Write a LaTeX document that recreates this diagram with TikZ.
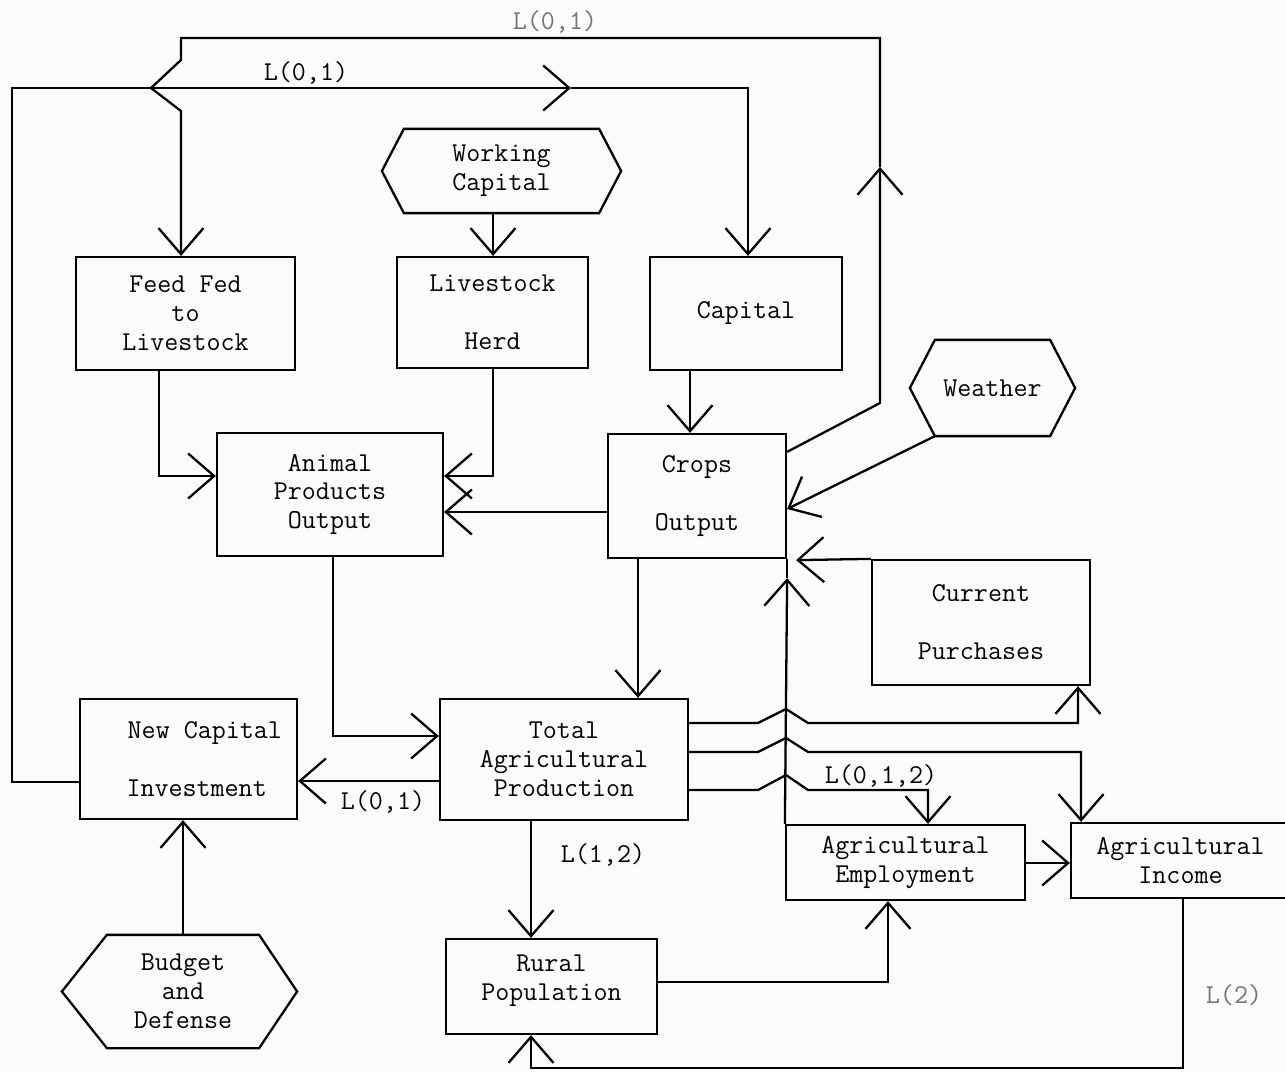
\documentclass[tikz,border=0pt]{standalone}
\usetikzlibrary{arrows.meta,calc}
\newcommand\txf{\fontsize{15.5}{16.5}\selectfont\ttfamily}
\begin{document}
\begin{tikzpicture}[x=0.02cm,y=-0.02cm,
  line width=1.3pt,
  box/.style={draw, rectangle, inner sep=0pt, align=center, font=\txf},
  hexn/.style={rectangle, inner sep=0pt, align=center, font=\txf},
  arr/.style={-{Straight Barb[length=0.52cm,width=0.9cm]}},
  lbl/.style={font=\txf, inner sep=0pt},
  faint/.style={text=black!55}]
\useasboundingbox (0,0) rectangle (1285,1072);
\fill[gray!3] (0,0) rectangle (1285,1072);
\clip (0,0) rectangle (1285,1072);

% boxes
\node[box, minimum width=4.38cm, minimum height=2.26cm] (feed) at (185.5,313.5) {Feed Fed\\to\\Livestock};
\node[box, minimum width=3.82cm, minimum height=2.22cm] (herd) at (492.5,312.5) {Livestock\\[16.5pt]Herd};
\node[box, minimum width=3.84cm, minimum height=2.26cm] (cap) at (746,313.5) {Capital};
\node[box, minimum width=4.52cm, minimum height=2.46cm] (animal) at (330,494.5) {Animal\\Products\\Output};
\node[box, minimum width=3.56cm, minimum height=2.48cm] (crops) at (697,496) {Crops\\[16.5pt]Output};
\node[box, minimum width=4.36cm, minimum height=2.5cm] (cp) at (981,622.5) {Current\\[16.5pt]Purchases};
\node[box, minimum width=4.34cm, minimum height=2.4cm] (nci) at (188.5,759) {\hspace*{1.2em}New Capital\\[16.5pt]\hspace*{0.6em}Investment};
\node[box, minimum width=4.96cm, minimum height=2.42cm] (tap) at (564,759.5) {Total\\Agricultural\\Production};
\node[box, minimum width=4.78cm, minimum height=1.5cm] (emp) at (905.5,862.5) {Agricultural\\Employment};
\node[box, minimum width=4.38cm, minimum height=1.5cm] (inc) at (1180.5,860.5) {Agricultural\\Income};
\node[box, minimum width=4.22cm, minimum height=1.9cm] (rural) at (551.5,986.5) {Rural\\Population\\[-6pt]};

% hexagons
\node[hexn, minimum width=3.86cm, minimum height=1.64cm] (wc) at (501.5,171) {Working\\Capital};
\draw (wc.north west) -- (wc.north east) -- ($(wc.east)+(22,0)$) -- (wc.south east) -- (wc.south west) -- ($(wc.west)+(-22,0)$) -- cycle;
\node[hexn, minimum width=2.26cm, minimum height=1.88cm] (we) at (992.5,388) {Weather};
\draw (we.north west) -- (we.north east) -- ($(we.east)+(25,0)$) -- (we.south east) -- (we.south west) -- ($(we.west)+(-25,0)$) -- cycle;
\node[hexn, minimum width=3.0cm, minimum height=2.22cm] (bd) at (183,991.5) {Budget\\and\\Defense};
\draw (bd.north west) -- (bd.north east) -- ($(bd.east)+(38,0)$) -- (bd.south east) -- (bd.south west) -- ($(bd.west)+(-45,0)$) -- cycle;

% labels
\node[lbl] (l1) at (306,73) {L(0,1)};
\node[lbl, faint] (l0) at (555,22) {L(0,1)};
\node[lbl] (l3) at (383,802) {L(0,1)};
\node[lbl] (l4) at (603,855) {L(1,2)};
\node[lbl] (l5) at (881,776) {L(0,1,2)};
\node[lbl, faint] (l6) at (1234,995) {L(2)};

% connectors
\draw[arr] (493,0 |- wc.south) -- (493,0 |- herd.north);
\draw[arr] (159,0 |- feed.south) -- (159,476) -- (159,476 -| animal.west);
\draw[arr] (493,0 |- herd.south) -- (493,476) -- (493,476 -| animal.east);
\draw[arr] (690,0 |- cap.south) -- (690,0 |- crops.north);
\draw[arr] (crops.west |- 0,512) -- (animal.east |- 0,512);
\draw[arr] (we.south west) -- (crops.east |- 0,509);
\draw[arr] (638,0 |- crops.south) -- (638,0 |- tap.north);
\draw[arr] (333,0 |- animal.south) -- (333,736) -- (333,736 -| tap.west);
\draw[arr] (tap.west |- 0,781) -- (nci.east |- 0,781);
\draw[arr] (bd.north) -- (bd.north |- nci.south);
\draw[arr] (531,0 |- tap.south) -- (531,0 |- rural.north);
\draw[arr] (rural.east |- 0,982) -- (888,982) -- (888,0 |- emp.south);
\draw[arr] (emp.east |- 0,863) -- (inc.west |- 0,863);
\draw[arr] (1183,0 |- inc.south) -- (1183,1068) -- (531,1068) -- (531,0 |- rural.south);

% current purchases and employment into crops
\coordinate (cpin) at ($(crops.south east)+(9,1)$);
\draw[arr] (cp.north west) -- (cpin);
\coordinate (empin) at ($(crops.south east)+(0,19)$);
\draw[arr] (emp.north west) -- (empin);
\draw (empin) -- (crops.south east);

% total production outputs, hopping over the vertical line
\draw[arr] (tap.east |- 0,723) -- (758,723) -- (786,709) -- (808,723) -- (1078,723) -- (1078,0 |- cp.south);
\draw[arr] (tap.east |- 0,752) -- (758,752) -- (786,738) -- (808,752) -- (1081,752) -- (1081,0 |- inc.north);
\draw[arr] (tap.east |- 0,790) -- (758,790) -- (786,775) -- (808,790) -- (928,790) -- (928,0 |- emp.north);

% new capital investment back to capital
\coordinate (m1) at (571,88);
\draw[arr] (nci.west |- 0,782) -- (12,782) -- (12,88) -- (m1);
\draw[arr] (m1) -- (748,88) -- (748,0 |- cap.north);

% crops output back to feed fed to livestock
\coordinate (m2) at (880,167);
\draw[arr] ($(crops.north east)+(0,19)$) -- (880,403) -- (m2);
\draw[arr] (m2) -- (880,38) -- (181,38) -- (181,60) -- (151,88) -- (181,111) -- (181,0 |- feed.north);
\end{tikzpicture}
\end{document}
